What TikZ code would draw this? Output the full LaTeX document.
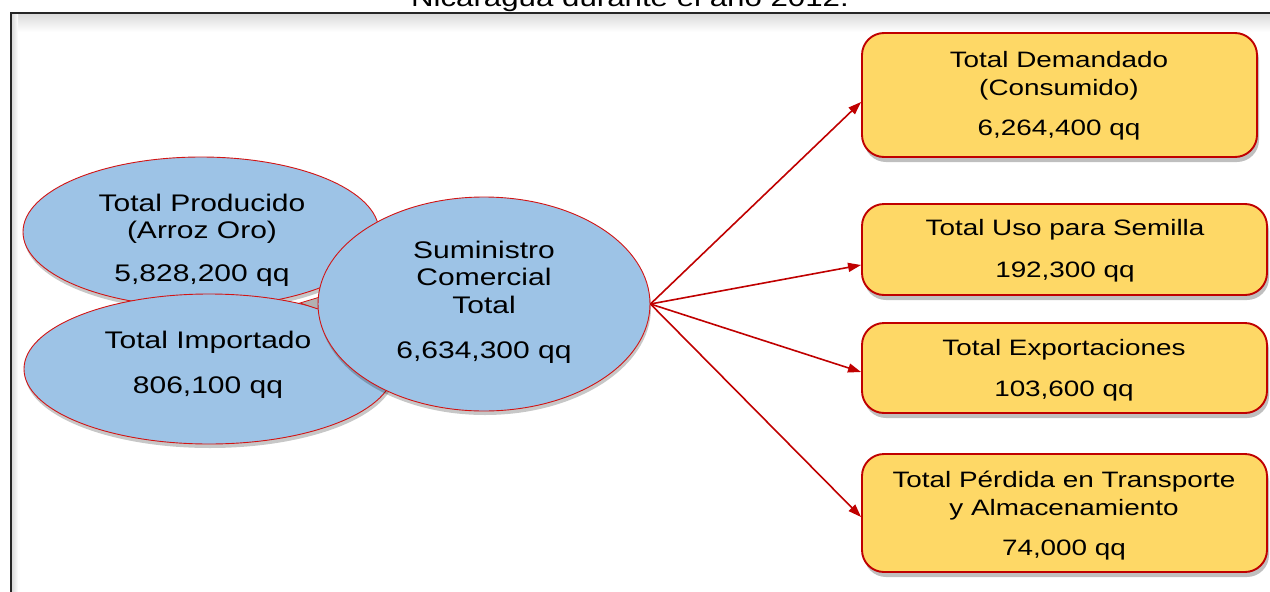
\documentclass[tikz,border=0pt]{standalone}
\usepackage{fontspec}
\setmainfont{Liberation Sans}[FakeStretch=1.25]
\usetikzlibrary{shapes.geometric,shadows,arrows.meta}
\definecolor{ellfill}{RGB}{157,195,230}
\definecolor{ellline}{RGB}{210,20,20}
\definecolor{boxfill}{RGB}{254,216,102}
\definecolor{boxline}{RGB}{192,0,0}
\definecolor{arrline}{RGB}{192,0,0}
\tikzset{
  ell/.style={ellipse, draw=ellline, line width=0.9pt, fill=ellfill, inner sep=0pt,
    drop shadow={shadow xshift=1pt, shadow yshift=-4pt, opacity=0.22, fill=black}},
  resbox/.style={rectangle, rounded corners=22pt, draw=boxline, line width=1.9pt, fill=boxfill, inner sep=0pt,
    drop shadow={shadow xshift=2pt, shadow yshift=-5pt, opacity=0.25, fill=black}},
  txt/.style={align=center, inner sep=0pt, font=\fontsize{24}{27.5}\selectfont},
  btxt/.style={align=center, inner sep=0pt, font=\fontsize{22.3}{27.5}\selectfont},
  flow/.style={draw=arrline, line width=1.6pt, -{Triangle[length=13pt,width=9pt]}},
}
\begin{document}
\begin{tikzpicture}[x=1pt,y=-1pt]
\useasboundingbox (0,0) rectangle (1270,592);
\fill[white] (0,0) rectangle (1270,592);
% title (cut at top)
\node[txt, anchor=base, font=\fontsize{25}{28}\selectfont] (title) at (630,6) {Nicaragua durante el año 2012.};
% frame shadow
\shade[top color=black!14, bottom color=white] (12,14) rectangle (1270,32);
\shade[left color=black!14, right color=white] (12,14) rectangle (18,592);
\draw[black!85, line width=2pt] (11,600) -- (11,13) -- (1280,13);
% ellipses
\node[ell, minimum width=356pt, minimum height=150pt] (prod) at (201,232) {};
\node[ell, minimum width=370pt, minimum height=150pt] (imp) at (209,369) {};
\filldraw[fill=black!30, draw=ellline, line width=0.8pt] (300,303) -- (330,294) -- (330,313) -- cycle;
\node[ell, minimum width=332pt, minimum height=214pt] (sum) at (484,304) {};
\node[txt] (tprod) at (202,240.5) {Total Producido\\(Arroz Oro)\\[15.5pt]5,828,200 qq};
\node[txt] (timp) at (208,364.5) {Total Importado\\[17.5pt]806,100 qq};
\node[txt] (tsum) at (484,302) {Suministro\\Comercial\\Total\\[17.5pt]6,634,300 qq};
% boxes
\node[resbox, minimum width=395pt, minimum height=124pt] (dem) at (1059.5,95) {};
\node[resbox, minimum width=405pt, minimum height=91pt] (sem) at (1064.5,249.5) {};
\node[resbox, minimum width=405pt, minimum height=90pt] (exp) at (1064.5,368) {};
\node[resbox, minimum width=405pt, minimum height=118pt] (per) at (1064.5,513) {};
\node[btxt] (tdem) at (1059,95.5) {Total Demandado\\(Consumido)\\[12.5pt]6,264,400 qq};
\node[btxt] (tsem) at (1065,251) {Total Uso para Semilla\\[14.5pt]192,300 qq};
\node[btxt] (texp) at (1064,370.5) {Total Exportaciones\\[13.5pt]103,600 qq};
\node[btxt] (tper) at (1064,515.5) {Total Pérdida en Transporte\\y Almacenamiento\\[12.5pt]74,000 qq};
% arrows
\draw[flow] (sum.east) -- ([yshift=-7pt]dem.west);
\draw[flow] (sum.east) -- ([yshift=-15.5pt]sem.west);
\draw[flow] (sum.east) -- ([yshift=-4pt]exp.west);
\draw[flow] (sum.east) -- ([yshift=-4pt]per.west);
\end{tikzpicture}
\end{document}
